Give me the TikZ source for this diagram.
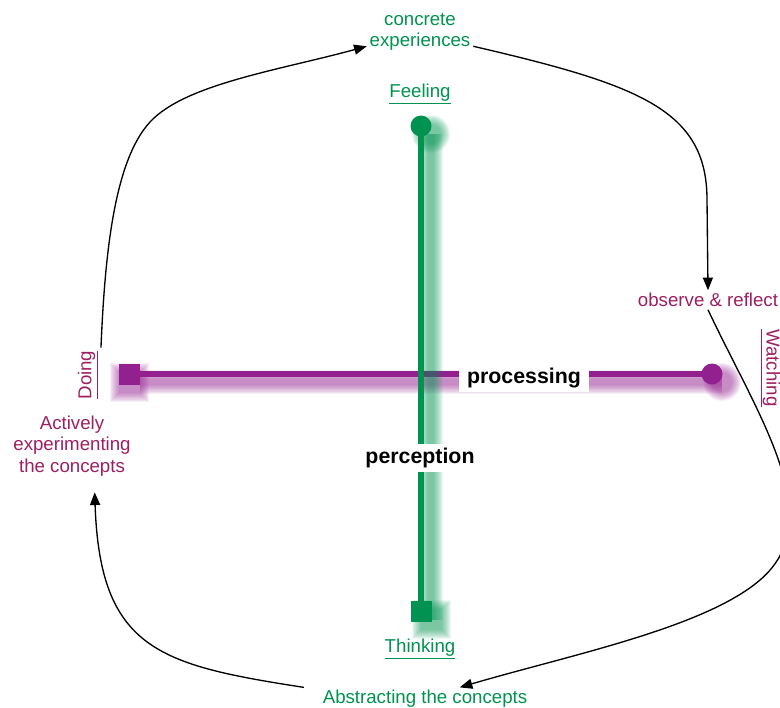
\documentclass[tikz,border=0pt]{standalone}
\usepackage{fontspec}
\setmainfont{Liberation Sans}
\usetikzlibrary{arrows.meta,calc,positioning}
\definecolor{kgreen}{RGB}{0,146,80}
\definecolor{kpurple}{RGB}{146,32,142}
\definecolor{kplum}{RGB}{158,30,98}

\begin{document}
\begin{tikzpicture}[x=0.75pt, y=-0.75pt, >={Triangle[length=9.5pt,width=7.5pt]},
    lbl/.style={font=\fontsize{14}{16}\selectfont, align=center, inner sep=2pt},
    axislbl/.style={fill=white, font=\bfseries\fontsize{16}{19}\selectfont, inner xsep=6pt, inner ysep=3pt},
    flow/.style={->, black, line width=1pt}]
    \useasboundingbox (0,0) rectangle (780,707);
    \clip (0,0) rectangle (780,707);
    % 阴影：processing 轴
    \foreach \i in {0,...,9}{
      \draw[kpurple, opacity=0.07, line width={(6+2*\i)*0.75pt}] (140,382) -- (722,382);
      \fill[kpurple, opacity=0.07] (722,382) circle ({10+\i});
      \fill[kpurple, opacity=0.07] ({129.5-10.5-\i},{382-10.5-\i}) rectangle ({140+\i},{392.5+\i});
    }
    % processing 轴
    \draw[kpurple, line width=4.5pt] (129.5,374) -- (712,374);
    \fill[kpurple] (119,363.5) rectangle (140,384.5);
    \fill[kpurple] (712,374) circle (10.5);
    % 阴影：perception 轴
    \foreach \i in {0,...,9}{
      \draw[kgreen, opacity=0.07, line width={(6+2*\i)*0.75pt}] (431,134) -- (431,620);
      \fill[kgreen, opacity=0.07] (431,134) circle ({10+\i});
      \fill[kgreen, opacity=0.07] ({420.5-\i},{609-\i}) rectangle ({441.5+\i},{630+\i});
    }
    % perception 轴
    \draw[kgreen, line width=4.5pt] (421,126) -- (421,611.5);
    \fill[kgreen] (421,126) circle (10.5);
    \fill[kgreen] (410.5,601) rectangle (431.5,622);
    % 轴名
    \node[axislbl] (processing) at (524,378) {processing};
    \node[axislbl] (perception) at (420,458) {perception};
    % 两端
    \node[lbl, text=kgreen] (feeling) at (420,94) {\underline{Feeling}};
    \node[lbl, text=kgreen] (thinking) at (420,649) {\underline{Thinking}};
    \node[lbl, text=kplum, rotate=90] (doing) at (88,375) {\underline{Doing}};
    \node[lbl, text=kplum, rotate=-90] (watching) at (770,368) {\underline{Watching}};
    % 四个阶段
    \node[lbl, text=kgreen] (concrete) at (420,32) {concrete\\experiences};
    \node[lbl, text=kplum] (observe) at (708,300) {observe \& reflect};
    \node[lbl, text=kgreen] (abstract) at (425,699) {Abstracting the concepts};
    \node[lbl, text=kplum] (active) at (72,446) {Actively\\experimenting\\the concepts};
    % 循环
    \draw[flow] (doing.south east) .. controls (105,250) and (115,160) .. (150,122)
      .. controls (185,84) and (280,70) .. (concrete.195);
    \draw[flow] (concrete.-15) .. controls (640,85) and (707,110) .. (707,200) -- (observe.north);
    \draw[flow] (observe.south) .. controls (760,420) and (830,520) .. (760,580)
      .. controls (704,628) and (570,655) .. ([xshift=26pt]abstract.north);
    \draw[flow] ([xshift=-12pt]abstract.north west) .. controls (160,665) and (100,650)
      .. ([xshift=17pt,yshift=-10pt]active.south);
  \end{tikzpicture}
\end{document}
